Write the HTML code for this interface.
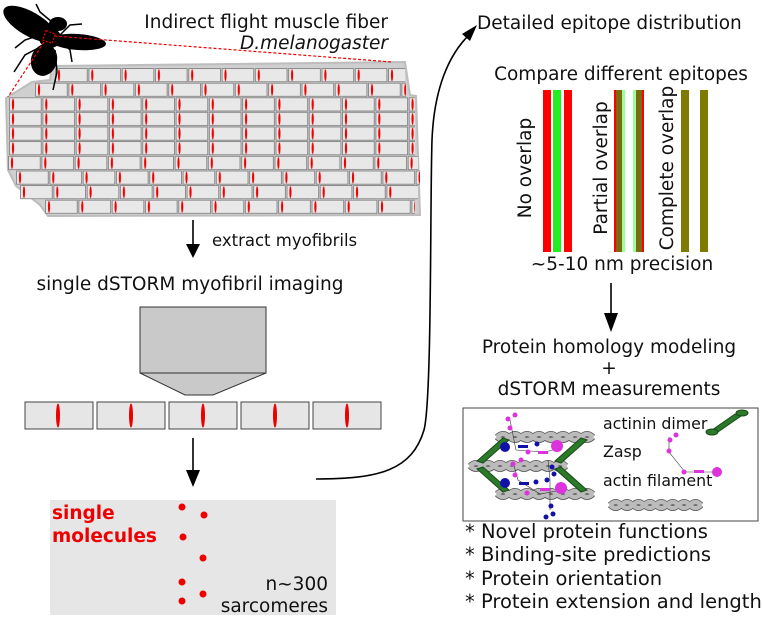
<!DOCTYPE html>
<html><head><meta charset="utf-8"><style>
html,body{margin:0;padding:0;background:#fff;}
svg{display:block;font-family:"DejaVu Sans","Liberation Sans",sans-serif;}
</style></head><body>
<svg width="762" height="618" viewBox="0 0 762 618" xmlns="http://www.w3.org/2000/svg">
<defs>
<pattern id="p" patternUnits="userSpaceOnUse" width="33.3" height="14.6">
<rect x="0.6" y="0.6" width="31.6" height="13.2" fill="#e8e8e8" stroke="#7a7a7a" stroke-width="0.8"/>
<ellipse cx="4" cy="7.2" rx="1.1" ry="6" fill="#e00"/>
</pattern>
<g id="fil">
<path d="M0,0 q6,-6 12,0 q6,6 12,0 q6,-6 12,0 q6,6 12,0 q6,-6 12,0 q6,6 12,0 q6,-6 12,0 q6,6 12,0" stroke="#555" stroke-width="6" fill="none"/>
<path d="M0,0 q6,6 12,0 q6,-6 12,0 q6,6 12,0 q6,-6 12,0 q6,6 12,0 q6,-6 12,0 q6,6 12,0 q6,-6 12,0" stroke="#555" stroke-width="6" fill="none"/>
<path d="M0,0 q6,-6 12,0 q6,6 12,0 q6,-6 12,0 q6,6 12,0 q6,-6 12,0 q6,6 12,0 q6,-6 12,0 q6,6 12,0" stroke="#bbb" stroke-width="4.4" fill="none"/>
<path d="M0,0 q6,6 12,0 q6,-6 12,0 q6,6 12,0 q6,-6 12,0 q6,6 12,0 q6,-6 12,0 q6,6 12,0 q6,-6 12,0" stroke="#bbb" stroke-width="4.4" fill="none"/>
</g>
</defs>

<!-- fiber -->
<path d="M52,66 L405,62 L410,95 L416,96 L420,215 L48,216 L40,205 L16,186 L8,170 L6,98 L32,82 L50,80 Z" fill="#cfcfcf" stroke="#bdbdbd" stroke-width="2"/>
<rect transform="translate(55,68)" width="350" height="14.4" fill="url(#p)"/>
<rect transform="translate(35,82.6)" width="371" height="14.4" fill="url(#p)"/>
<rect transform="translate(9,97.2)" width="406" height="58.4" fill="url(#p)"/>
<rect transform="translate(8,155.8)" width="410" height="14.4" fill="url(#p)"/>
<rect transform="translate(16,170.4)" width="404" height="14.4" fill="url(#p)"/>
<rect transform="translate(20,185)" width="398" height="14.4" fill="url(#p)"/>
<rect transform="translate(45,199.6)" width="370" height="14.4" fill="url(#p)"/>

<!-- fly -->
<g fill="#000" stroke="#000">
<ellipse cx="30" cy="24" rx="30" ry="12" transform="rotate(30 30 24)" stroke="none"/>
<ellipse cx="78" cy="42" rx="28" ry="8" transform="rotate(4 78 42)" stroke="none"/>
<ellipse cx="58" cy="24" rx="9" ry="7" stroke="none"/>
<ellipse cx="50" cy="38" rx="11" ry="10" stroke="none"/>
<ellipse cx="44" cy="60" rx="13" ry="16" transform="rotate(15 44 60)" stroke="none"/>
<g fill="none" stroke-width="1.5">
<path d="M40,35 L25,40 L15,48"/><path d="M42,46 L25,55 L14,72"/><path d="M55,50 L57,72 L53,90"/><path d="M60,35 L70,25 L82,24"/><path d="M52,22 L40,12 L36,4"/><path d="M60,40 L70,50 L72,62"/>
</g></g>
<rect x="44" y="32" width="10" height="10" fill="none" stroke="#e00" stroke-width="1.2" stroke-dasharray="2,1.5" transform="rotate(20 49 37)"/>
<line x1="54" y1="36" x2="392" y2="62" stroke="#e00" stroke-width="1.2" stroke-dasharray="3,2"/>
<line x1="44" y1="42" x2="8" y2="97" stroke="#e00" stroke-width="1.2" stroke-dasharray="3,2"/>

<text x="388" y="28" font-size="18.5" text-anchor="end" fill="#111">Indirect flight muscle fiber</text>
<text x="388" y="49" font-size="18.5" text-anchor="end" font-style="italic" fill="#111">D.melanogaster</text>

<!-- arrow 1 -->
<line x1="193" y1="220" x2="193" y2="256" stroke="#000" stroke-width="1.6"/>
<path d="M186,244 L193,258 L200,244 Z" fill="#000"/>
<text x="212" y="246" font-size="16.5" fill="#111">extract myofibrils</text>
<text x="190" y="290" font-size="18.5" text-anchor="middle" fill="#111">single dSTORM myofibril imaging</text>

<!-- objective -->
<rect x="140" y="307" width="126" height="66" fill="#c9c9c9" stroke="#333" stroke-width="1"/>
<path d="M140,373 L266,373 L213,395 L185,395 Z" fill="#c9c9c9" stroke="#333" stroke-width="1"/>
<g fill="#e6e6e6" stroke="#444" stroke-width="1">
<rect x="25" y="402" width="68" height="27"/><rect x="97" y="402" width="68" height="27"/><rect x="169" y="402" width="68" height="27"/><rect x="241" y="402" width="68" height="27"/><rect x="313" y="402" width="68" height="27"/>
</g>
<g fill="#e00"><ellipse cx="58" cy="415.5" rx="2" ry="12"/><ellipse cx="131" cy="415.5" rx="2" ry="12"/><ellipse cx="203" cy="415.5" rx="2" ry="12"/><ellipse cx="275" cy="415.5" rx="2" ry="12"/><ellipse cx="347" cy="415.5" rx="2" ry="12"/></g>

<line x1="193" y1="438" x2="193" y2="482" stroke="#000" stroke-width="1.6"/>
<path d="M186,470 L193,487 L200,470 Z" fill="#000"/>

<!-- single molecules box -->
<rect x="50" y="500" width="286" height="115" fill="#e6e6e6"/>
<text x="52" y="519" font-size="18.5" font-weight="bold" fill="#e00">single</text>
<text x="52" y="542" font-size="18.5" font-weight="bold" fill="#e00">molecules</text>
<g fill="#e00"><circle cx="182" cy="507" r="3.5"/><circle cx="204" cy="515" r="3.5"/><circle cx="183" cy="537" r="3.5"/><circle cx="203" cy="558" r="3.5"/><circle cx="182" cy="582" r="3.5"/><circle cx="203" cy="594" r="3.5"/><circle cx="182" cy="601" r="3.5"/></g>
<text x="328" y="590" font-size="18.5" text-anchor="end" fill="#111">n~300</text>
<text x="328" y="612" font-size="18.5" text-anchor="end" fill="#111">sarcomeres</text>

<!-- curve -->
<path d="M316,479 C380,479 412,470 424,430 C432,400 430,200 432,140 C434,90 448,55 470,34" fill="none" stroke="#000" stroke-width="1.6"/>
<path d="M462,34 L477,25 L470,41 Z" fill="#000"/>

<!-- right side -->
<text x="477" y="29" font-size="18.5" fill="#111">Detailed epitope distribution</text>
<text x="621" y="80" font-size="18.5" text-anchor="middle" fill="#111">Compare different epitopes</text>
<rect x="543" y="90" width="8" height="162" fill="#f00"/>
<rect x="553" y="90" width="8" height="162" fill="#2e2"/>
<rect x="564" y="90" width="8" height="162" fill="#f00"/>
<rect x="614" y="90" width="8" height="162" fill="#f00"/>
<rect x="616" y="90" width="6" height="162" fill="#7a6a10"/>
<rect x="622" y="90" width="3" height="162" fill="#9f9"/>
<rect x="633" y="90" width="3" height="162" fill="#9f9"/>
<rect x="636" y="90" width="6" height="162" fill="#7a6a10"/>
<rect x="642" y="90" width="2" height="162" fill="#f00"/>
<rect x="681" y="90" width="8" height="162" fill="#7f7a00"/>
<rect x="700" y="90" width="8" height="162" fill="#7f7a00"/>
<text transform="translate(531,168) rotate(-90)" font-size="18.5" text-anchor="middle" fill="#111">No overlap</text>
<text transform="translate(607,168) rotate(-90)" font-size="18.5" text-anchor="middle" fill="#111">Partial overlap</text>
<text transform="translate(673,168) rotate(-90)" font-size="18.5" text-anchor="middle" fill="#111">Complete overlap</text>
<text x="622" y="270" font-size="18.5" text-anchor="middle" fill="#111">~5-10 nm precision</text>

<line x1="611" y1="283" x2="611" y2="326" stroke="#000" stroke-width="1.6"/>
<path d="M604,313 L611,332 L618,313 Z" fill="#000"/>
<text x="609" y="353" font-size="18.5" text-anchor="middle" fill="#111">Protein homology modeling</text>
<text x="609" y="374" font-size="18.5" text-anchor="middle" fill="#111">+</text>
<text x="609" y="395" font-size="18.5" text-anchor="middle" fill="#111">dSTORM measurements</text>

<rect x="463" y="408" width="295" height="113" fill="#fff" stroke="#444" stroke-width="1"/>
<use href="#fil" transform="translate(497,437)"/>
<use href="#fil" transform="translate(470,466)"/>
<use href="#fil" transform="translate(497,494)"/>
<use href="#fil" transform="translate(610,505) scale(0.95,1)"/>
<g stroke="#1a4a1a" stroke-width="1" fill="#2a7a2a">
<path d="M477,461 L503,438 L509,440 L483,463 Z"/><path d="M477,469 L503,492 L509,490 L483,467 Z"/>
<path d="M555,461 L581,438 L587,440 L561,463 Z"/><path d="M555,469 L581,492 L587,490 L561,467 Z"/>
<path d="M712,430 L735,414 L741,416 L718,432 Z"/><ellipse cx="742" cy="413" rx="6" ry="3" fill="#2a7a2a"/><ellipse cx="712" cy="432" rx="6" ry="3" fill="#2a7a2a"/>
</g>
<g stroke="#333" stroke-width="0.6" fill="none"><path d="M510,420 L516,450 L545,452 L560,448"/><path d="M513,462 L518,480 L540,494 L562,490"/><path d="M548,460 L550,480 L550,510"/><path d="M669,437 L669,452 L685,472 L715,472"/></g>
<g fill="#d3d"><circle cx="508" cy="419" r="2.5"/><circle cx="515" cy="415" r="2.5"/><circle cx="510" cy="428" r="2.5"/><circle cx="513" cy="464" r="2.5"/><circle cx="521" cy="460" r="2.5"/><circle cx="515" cy="475" r="2.5"/><circle cx="527" cy="493" r="2.5"/><circle cx="528" cy="452" r="2.5"/><circle cx="557" cy="446" r="6"/><circle cx="561" cy="488" r="6"/><circle cx="670" cy="440" r="2.5"/><circle cx="676" cy="435" r="2.5"/><circle cx="669" cy="451" r="2.5"/><circle cx="684" cy="472" r="2.5"/><circle cx="717" cy="472" r="5"/><rect x="694" y="470" width="10" height="3"/><rect x="538" y="451" width="10" height="3"/><rect x="540" y="488" width="10" height="3"/></g>
<g fill="#11a"><circle cx="505" cy="447" r="5"/><circle cx="505" cy="483" r="5"/><circle cx="537" cy="444" r="2.5"/><circle cx="536" cy="482" r="2.5"/><circle cx="552" cy="467" r="2.5"/><circle cx="554" cy="474" r="2.5"/><circle cx="547" cy="480" r="2.5"/><circle cx="551" cy="506" r="2.5"/><circle cx="553" cy="514" r="2.5"/><circle cx="546" cy="517" r="2.5"/><rect x="518" y="445" width="10" height="3"/><rect x="519" y="482" width="10" height="3"/></g>
<text x="603" y="429" font-size="15.8" fill="#111">actinin dimer</text>
<text x="603" y="457" font-size="15.8" fill="#111">Zasp</text>
<text x="603" y="486" font-size="15.8" fill="#111">actin filament</text>

<g font-size="19.5" fill="#111">
<text x="465" y="538">* Novel protein functions</text>
<text x="465" y="561">* Binding-site predictions</text>
<text x="465" y="585">* Protein orientation</text>
<text x="465" y="608">* Protein extension and length</text>
</g>
</svg>
</body></html>
